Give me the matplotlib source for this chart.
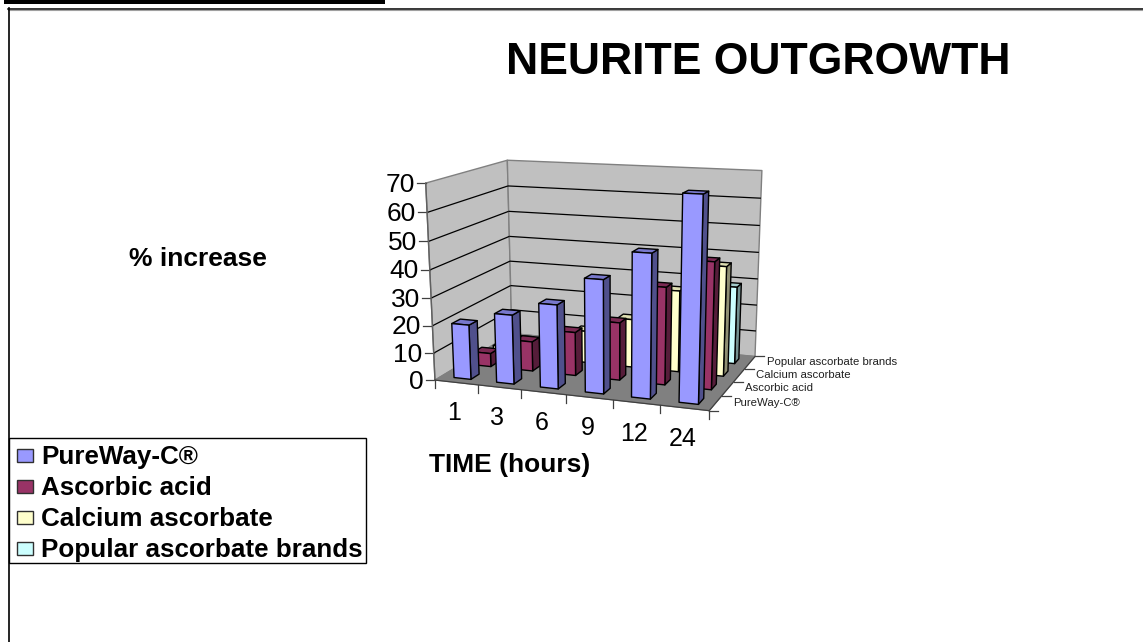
import numpy as np
import matplotlib
matplotlib.use("Agg")
import matplotlib.pyplot as plt
from matplotlib.patches import Polygon, Rectangle

plt.rcParams['font.family'] = ['Liberation Sans', 'DejaVu Sans']

title = "NEURITE OUTGROWTH"
y_label = "% increase"
x_label = "TIME (hours)"
times = ["1", "3", "6", "9", "12", "24"]
series_names = ["PureWay-C®", "Ascorbic acid", "Calcium ascorbate", "Popular ascorbate brands"]
pureway = [20, 25, 30, 40, 50, 70]
ascorbic = [5, 11, 16, 21, 35, 45]
calcium = [3, 6, 12, 18, 30, 40]
popular = [1, 3, 6, 9, 15, 29]
values = [pureway, ascorbic, calcium, popular]
y_ticks = [0, 10, 20, 30, 40, 50, 60, 70]
face = ["#9999FF", "#993366", "#FFFFCC", "#CCFFFF"]
side = ["#50508C", "#561D3A", "#8F8F72", "#739090"]
top = ["#7878CC", "#7A2952", "#DCDCB0", "#A4CCCC"]

# camera calibration: (category, depth, value) -> image pixel
calib = [((0, 0, 0), (435, 379)), ((6, 0, 0), (709, 412)), ((6, 4, 0), (755, 355)),
         ((0, 4, 0), (512, 335)), ((0, 0, 70), (426, 183)), ((0, 4, 70), (507, 160)),
         ((6, 4, 70), (762, 171)), ((0, 4, 30), (510, 261)), ((0, 0, 30), (431, 298)),
         ((6, 4, 20), (757, 305))]
A = []
for (X, Y, Z), (u, v) in calib:
    A.append([X, Y, Z, 1, 0, 0, 0, 0, -u * X, -u * Y, -u * Z, -u])
    A.append([0, 0, 0, 0, X, Y, Z, 1, -v * X, -v * Y, -v * Z, -v])
P = np.linalg.svd(np.array(A, float))[2][-1].reshape(3, 4)


def proj(X, Y, Z):
    p = P @ np.array([X, Y, Z, 1.0])
    return p[0] / p[2], p[1] / p[2]


fig = plt.figure(figsize=(11.43, 6.42), dpi=100)
ax = fig.add_axes([0, 0, 1, 1])
ax.set_xlim(0, 1143)
ax.set_ylim(642, 0)
ax.axis("off")


def poly(pts, fc, ec="black", lw=1.0, z=2):
    ax.add_patch(Polygon([proj(*p) for p in pts], closed=True, fc=fc, ec=ec, lw=lw, zorder=z, joinstyle="round"))


def line3(a, b, color="black", lw=0.9, z=1.5):
    pa, pb = proj(*a), proj(*b)
    ax.plot([pa[0], pb[0]], [pa[1], pb[1]], color=color, lw=lw, zorder=z, solid_capstyle="butt")


nx, ny, zmax = len(times), len(series_names), y_ticks[-1]
# page furniture
ax.add_patch(Rectangle((4, 0), 381, 4, fc="black", ec="none"))
ax.plot([8, 1143], [8.5, 8.5], color="black", lw=1.1)
ax.plot([8, 1143], [9.8, 9.8], color="#A0A0A0", lw=0.8)
ax.plot([8.5, 8.5], [8, 642], color="black", lw=1.2)

# walls and floor
poly([(0, 0, 0), (0, ny, 0), (0, ny, zmax), (0, 0, zmax)], "#C0C0C0", ec="#808080", lw=1.0, z=1)
poly([(0, ny, 0), (nx, ny, 0), (nx, ny, zmax), (0, ny, zmax)], "#C0C0C0", ec="#808080", lw=1.0, z=1)
poly([(0, 0, 0), (nx, 0, 0), (nx, ny, 0), (0, ny, 0)], "#808080", ec="#808080", lw=0.8, z=1.2)
for t in y_ticks[1:-1]:
    line3((0, 0, t), (0, ny, t))
    line3((0, ny, t), (nx, ny, t))

# bars, back row first; the camera sits to the right
gap = 0.3
for d in range(ny - 1, -1, -1):
    for c in range(nx):
        v = values[d][c]
        x0, x1, y0, y1 = c + gap, c + 1 - gap, d + gap, d + 1 - gap
        order = 3 + (ny - d) * 10 + c
        poly([(x1, y0, 0), (x1, y1, 0), (x1, y1, v), (x1, y0, v)], side[d], z=order)
        poly([(x0, y0, v), (x1, y0, v), (x1, y1, v), (x0, y1, v)], top[d], z=order)
        poly([(x0, y0, 0), (x1, y0, 0), (x1, y0, v), (x0, y0, v)], face[d], z=order)

# value axis
for t in y_ticks:
    px, py = proj(0, 0, t)
    ax.plot([px - 9, px], [py, py], color="#404040", lw=0.9, zorder=2)
    ax.text(px - 11, py + 1.5, str(t), ha="right", va="center", fontsize=19, color="black")
px0, py0 = proj(0, 0, 0)
px1, py1 = proj(0, 0, zmax)
ax.plot([px0, px1], [py0, py1], color="#606060", lw=1.0, zorder=2)

# category axis
for i in range(nx + 1):
    px, py = proj(i, 0, 0)
    ax.plot([px, px], [py, py + 8], color="#404040", lw=0.9, zorder=2)
ax.plot([proj(0, 0, 0)[0], proj(nx, 0, 0)[0]], [proj(0, 0, 0)[1], proj(nx, 0, 0)[1]], color="#404040", lw=0.9, zorder=2)
for i, lab in enumerate(times):
    px, py = proj(i + 0.5, 0, 0)
    ax.text(px - 2, py + 31, lab, ha="center", va="center", fontsize=18, color="black")

# depth axis
for i in range(ny + 1):
    px, py = proj(nx, i, 0)
    ax.plot([px, px + 9], [py, py], color="#404040", lw=0.9, zorder=2)
ax.plot([proj(nx, 0, 0)[0], proj(nx, ny, 0)[0]], [proj(nx, 0, 0)[1], proj(nx, ny, 0)[1]], color="#404040", lw=0.9, zorder=2)
for i, lab in enumerate(series_names):
    px, py = proj(nx, i + 0.5, 0)
    ax.text(px + 17, py, lab, ha="left", va="center", fontsize=8.2, color="#202020")

ax.text(758, 62.5, title, ha="center", va="center", fontsize=32, fontweight="bold")
ax.text(197.5, 259, y_label, ha="center", va="center", fontsize=19, fontweight="bold")
ax.text(510, 465, x_label, ha="center", va="center", fontsize=19, fontweight="bold")

# legend
ax.add_patch(Rectangle((8.5, 438), 357.5, 125, fc="white", ec="black", lw=1.0, zorder=50))
for i, name in enumerate(series_names):
    yc = 455.5 + i * 31.0
    ax.add_patch(Rectangle((17, yc - 6.5), 16, 13, fc=face[i], ec="#303030", lw=1.0, zorder=51))
    ax.text(41, yc + 1.5, name, ha="left", va="center", fontsize=18.7, fontweight="bold", zorder=51)

fig.savefig("out.png", dpi=100)
